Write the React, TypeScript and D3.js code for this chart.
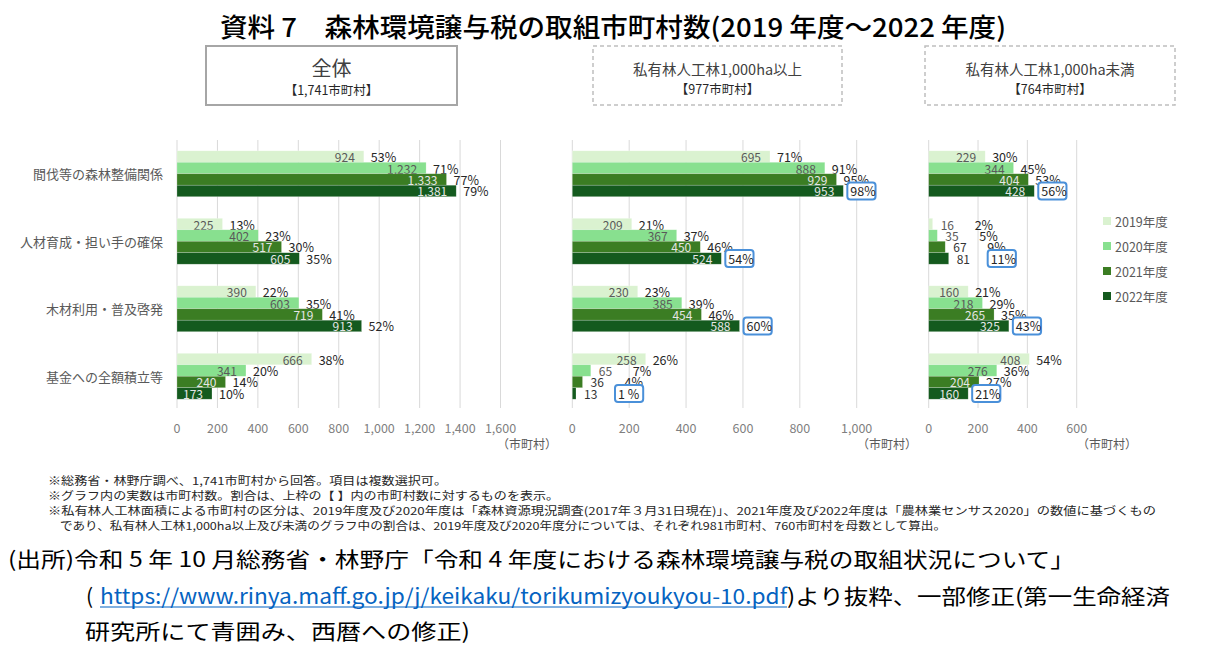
import React from 'react';
import * as d3 from 'd3';

const categories = ['間伐等の森林整備関係', '人材育成・担い手の確保', '木材利用・普及啓発', '基金への全額積立等'];
const years = ['2019年度', '2020年度', '2021年度', '2022年度'];
const yearColors = ['#daf2d0', '#88e08f', '#3b7d23', '#145a1e'];

// counts per category, one value per year
const allCounts = [[924, 1232, 1333, 1381], [225, 402, 517, 605], [390, 603, 719, 913], [666, 341, 240, 173]];
const allPct = [[53, 71, 77, 79], [13, 23, 30, 35], [22, 35, 41, 52], [38, 20, 14, 10]];
const overCounts = [[695, 888, 929, 953], [209, 367, 450, 524], [230, 385, 454, 588], [258, 65, 36, 13]];
const overPct = [[71, 91, 95, 98], [21, 37, 46, 54], [23, 39, 46, 60], [26, 7, 4, 1]];
const underCounts = [[229, 344, 404, 428], [16, 35, 67, 81], [160, 218, 265, 325], [408, 276, 204, 160]];
const underPct = [[30, 45, 53, 56], [2, 5, 9, 11], [21, 29, 35, 43], [54, 36, 27, 21]];

const allTicks = [0, 200, 400, 600, 800, 1000, 1200, 1400, 1600];
const overTicks = [0, 200, 400, 600, 800, 1000];
const underTicks = [0, 200, 400, 600];

const footnotes = [
  '※総務省・林野庁調べ、1,741市町村から回答。項目は複数選択可。',
  '※グラフ内の実数は市町村数。割合は、上枠の【 】内の市町村数に対するものを表示。',
  '※私有林人工林面積による市町村の区分は、2019年度及び2020年度は「森林資源現況調査(2017年３月31日現在)」、2021年度及び2022年度は「農林業センサス2020」の数値に基づくもの',
  'であり、私有林人工林1,000ha以上及び未満のグラフ中の割合は、2019年度及び2020年度分については、それぞれ981市町村、760市町村を母数として算出。',
];

const FONT = '"Noto Sans CJK JP", "Noto Sans", sans-serif';

const yCat = d3.scaleBand<string>().domain(categories).range([140, 410]).paddingInner(0.32).paddingOuter(0.16);
const yYear = d3.scaleBand<string>().domain(years).range([0, yCat.bandwidth()]);

interface PanelProps {
  counts: number[][];
  pct: number[][];
  ticks: number[];
  x0: number;
  x1: number;
  boxed: boolean;
  unitX: number;
}

const Panel = ({ counts, pct, ticks, x0, x1, boxed, unitX }: PanelProps) => {
  const x = d3.scaleLinear().domain([0, ticks[ticks.length - 1]]).range([x0, x1]);
  const fmt = d3.format(',');
  return (
    <g>
      {ticks.map((t) => (
        <g key={t}>
          <line x1={x(t)} x2={x(t)} y1={140} y2={408} stroke="#d9d9d9" strokeWidth={1} />
          <text x={x(t)} y={427} textAnchor="middle" dominantBaseline="central" fontSize={12.5} fill="#7f7f7f">
            {fmt(t)}
          </text>
        </g>
      ))}
      <text x={unitX} y={443} textAnchor="middle" dominantBaseline="central" fontSize={12} fill="#595959">
        （市町村）
      </text>
      {categories.map((c, ci) => (
        <g key={c} transform={`translate(0,${yCat(c)})`}>
          {years.map((yr, yi) => {
            const v = counts[ci][yi];
            const w = x(v) - x(0);
            const yy = (yYear(yr) as number) + yYear.bandwidth() / 2;
            const inside = w > 30;
            const numColor = inside ? (yi < 2 ? '#595959' : '#e6e6e6') : yi < 2 ? '#595959' : '#333333';
            const pctX = inside ? x(v) + 7 : x(v) + 42;
            const label = pct[ci][yi] < 10 && boxed && yi === 3 ? `${pct[ci][yi]} %` : `${pct[ci][yi]}%`;
            const lw = label.length * 7.4;
            return (
              <g key={yr}>
                <rect x={x(0)} y={yYear(yr)} width={w} height={yYear.bandwidth()} fill={yearColors[yi]} stroke="#ffffff" strokeOpacity={0.35} strokeWidth={0.6} />
                <text
                  x={inside ? x(v) - 9 : x(v) + 8}
                  y={yy}
                  textAnchor={inside ? 'end' : 'start'}
                  dominantBaseline="central"
                  fontSize={12}
                  fill={numColor}
                >
                  {fmt(v)}
                </text>
                {boxed && yi === 3 && (
                  <rect x={pctX - 3} y={yy - 8.5} width={lw + 6} height={17} rx={3} fill="#ffffff" stroke="#4a90d9" strokeWidth={2} />
                )}
                <text x={pctX} y={yy} dominantBaseline="central" fontSize={12.5} fill="#262626">
                  {label}
                </text>
              </g>
            );
          })}
        </g>
      ))}
    </g>
  );
};

const App = () => {
  return (
    <svg width={1207} height={651} style={{ position: 'absolute', left: 0, top: 0, fontFamily: FONT }}>
      <rect width={1207} height={651} fill="#ffffff" />
      <text x={220} y={25} dominantBaseline="central" fontSize={26} fontWeight={500} fill="#000" textLength={786} lengthAdjust="spacingAndGlyphs">
        資料 7　森林環境譲与税の取組市町村数(2019 年度～2022 年度)
      </text>

      <rect x={206} y={46} width={251} height={59} fill="none" stroke="#a6a6a6" strokeWidth={2} />
      <text x={331.5} y={67} textAnchor="middle" dominantBaseline="central" fontSize={20} fill="#404040">全体</text>
      <text x={331.5} y={89} textAnchor="middle" dominantBaseline="central" fontSize={12.5} fill="#262626">【1,741市町村】</text>

      <rect x={593} y={46} width={249} height={59} fill="none" stroke="#bfbfbf" strokeWidth={1.5} strokeDasharray="4,3" />
      <text x={717.5} y={68} textAnchor="middle" dominantBaseline="central" fontSize={14.5} fill="#404040">私有林人工林1,000ha以上</text>
      <text x={717.5} y={88} textAnchor="middle" dominantBaseline="central" fontSize={12.5} fill="#262626">【977市町村】</text>

      <rect x={925} y={46} width={250} height={59} fill="none" stroke="#bfbfbf" strokeWidth={1.5} strokeDasharray="4,3" />
      <text x={1050} y={68} textAnchor="middle" dominantBaseline="central" fontSize={14.5} fill="#404040">私有林人工林1,000ha未満</text>
      <text x={1050} y={88} textAnchor="middle" dominantBaseline="central" fontSize={12.5} fill="#262626">【764市町村】</text>

      {categories.map((c) => (
        <text key={c} x={163} y={(yCat(c) as number) + yCat.bandwidth() / 2} textAnchor="end" dominantBaseline="central" fontSize={13} fill="#595959">
          {c}
        </text>
      ))}

      <Panel counts={allCounts} pct={allPct} ticks={allTicks} x0={177} x1={500.5} boxed={false} unitX={527} />
      <Panel counts={overCounts} pct={overPct} ticks={overTicks} x0={572.3} x1={856.7} boxed={true} unitX={887} />
      <Panel counts={underCounts} pct={underPct} ticks={underTicks} x0={928.7} x1={1076.7} boxed={true} unitX={1107} />

      {years.map((yr, i) => (
        <g key={yr} transform={`translate(1103,${221 + i * 25})`}>
          <rect x={0} y={-4} width={8} height={8} fill={yearColors[i]} />
          <text x={12} y={0} dominantBaseline="central" fontSize={12.5} fill="#595959">{yr}</text>
        </g>
      ))}

      {footnotes.map((f, i) => (
        <text
          key={i}
          x={i === 3 ? 60 : 48}
          y={480 + i * 15}
          dominantBaseline="central"
          fontSize={11}
          fill="#262626"
          textLength={[399, 511, 1108, 886][i]}
          lengthAdjust="spacingAndGlyphs"
        >
          {f}
        </text>
      ))}

      <text x={8} y={558} dominantBaseline="central" fontSize={21} fill="#000" textLength={1067} lengthAdjust="spacingAndGlyphs">
        (出所)令和 5 年 10 月総務省・林野庁「令和 4 年度における森林環境譲与税の取組状況について」
      </text>
      <text x={86} y={595} dominantBaseline="central" fontSize={21} fill="#000">(</text>
      <text x={100} y={595} dominantBaseline="central" fontSize={21} fill="#0563c1" textLength={687} lengthAdjust="spacingAndGlyphs">
        https://www.rinya.maff.go.jp/j/keikaku/torikumizyoukyou-10.pdf
      </text>
      <line x1={100} x2={787} y1={607} y2={607} stroke="#0563c1" strokeWidth={1.2} />
      <text x={787} y={595} dominantBaseline="central" fontSize={21} fill="#000" textLength={383} lengthAdjust="spacingAndGlyphs">
        )より抜粋、一部修正(第一生命経済
      </text>
      <text x={85} y={630} dominantBaseline="central" fontSize={21} fill="#000" textLength={385} lengthAdjust="spacingAndGlyphs">
        研究所にて青囲み、西暦への修正)
      </text>
    </svg>
  );
};

export default App;
